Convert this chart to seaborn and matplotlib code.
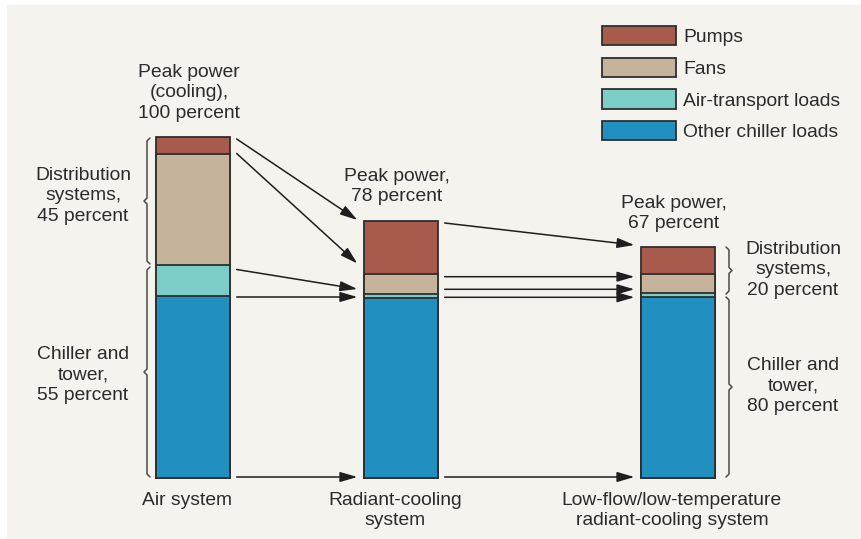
import pandas as pd
import seaborn as sns
import matplotlib.pyplot as plt
from matplotlib.patches import Rectangle

# data (percent of air-system peak power)
systems = ['Air system', 'Radiant-cooling\nsystem', 'Low-flow/low-temperature\nradiant-cooling system']
pumps = [5.0, 15.5, 7.8]
fans = [32.5, 5.9, 5.7]
air_transport = [9.0, 1.1, 0.9]
other_chiller = [53.5, 53.0, 53.3]
components = ['Pumps', 'Fans', 'Air-transport loads', 'Other chiller loads']
peak_labels = ['Peak power\n(cooling),\n100 percent', 'Peak power,\n78 percent', 'Peak power,\n67 percent']

colors = ['#a85b4d', '#c5b49b', '#7ccdc7', '#228fc1']
edge = '#2e2e2e'
txt = '#2b2b2b'

# layout: bar centres (uneven spacing like the original figure)
bar_pos = [0, 1, 2.332]

df = pd.DataFrame({'system': systems, 'pos': bar_pos, 'pumps': pumps, 'fans': fans,
                   'air': air_transport, 'chiller': other_chiller})
df['lvl_chiller'] = df['chiller']
df['lvl_air'] = df['lvl_chiller'] + df['air']
df['lvl_fans'] = df['lvl_air'] + df['fans']
df['lvl_pumps'] = df['lvl_fans'] + df['pumps']

sns.set_style('white')
plt.rcParams['font.family'] = ['Liberation Sans', 'DejaVu Sans']
FS = 13.9

fig = plt.figure(figsize=(8.61, 5.39), dpi=100)
fig.patch.set_facecolor('white')
fig.add_artist(Rectangle((7 / 861, 0), 1, 1 - 5 / 539, transform=fig.transFigure,
                         facecolor='#f4f3ee', edgecolor='none', zorder=-5))
ax = fig.add_axes([0, 0, 1, 1])
ax.set_facecolor('none')


# pixel -> data helpers for annotation placement
def X(px):
    return (px - 193) / 208


def Y(py):
    return (478.3 - py) / 3.41


half_w = 0.18
for col, c, lab in zip(['lvl_pumps', 'lvl_fans', 'lvl_air', 'lvl_chiller'], colors, components):
    sns.barplot(data=df, x='pos', y=col, native_scale=True, orient='v', width=2 * half_w,
                color=c, saturation=1, edgecolor=edge, linewidth=1.3, errorbar=None,
                label=lab, ax=ax)

ax.set_xlim(X(0), X(861))
ax.set_ylim(Y(539), Y(0))
ax.axis('off')

# category labels under the bars
for p, s in zip(bar_pos, systems):
    ax.text(p - 0.03, Y(492), s, ha='center', va='top', fontsize=FS, color=txt, linespacing=1.25)

# peak power labels above the bars
for p, top, s in zip(bar_pos, df['lvl_pumps'], peak_labels):
    ax.text(p - 0.02, top + 4.6, s, ha='center', va='bottom', fontsize=FS, color=txt, linespacing=1.25)

# arrows between bars
arrow_kw = dict(arrowstyle='-|>,head_length=0.55,head_width=0.16', color='#1e1e1e', lw=1.1,
                mutation_scale=19, shrinkA=0, shrinkB=0)
pairs_1 = [(139, 220), (153.5, 263.5), (269.5, 289), (297, 297), (477, 477)]
pairs_2 = [(223, 245), (276.7, 276.7), (289.3, 289.3), (297.3, 297.3), (477, 477)]
for (a, b) in pairs_1:
    ax.annotate('', xy=(bar_pos[1] - half_w - 0.03, Y(b)), xytext=(bar_pos[0] + half_w + 0.03, Y(a)),
                arrowprops=arrow_kw)
for (a, b) in pairs_2:
    ax.annotate('', xy=(bar_pos[2] - half_w - 0.03, Y(b)), xytext=(bar_pos[1] + half_w + 0.03, Y(a)),
                arrowprops=arrow_kw)


# curly braces
def brace(xpx, top, bot, side):
    # side = -1: tip points left, +1: tip points right
    h = 3
    xs = [xpx - side * h, xpx, xpx, xpx + side * h, xpx, xpx, xpx - side * h]
    mid = (Y(top) + Y(bot)) / 2
    d = 3 / 3.41
    ys = [Y(top), Y(top) - d, mid + d, mid, mid - d, Y(bot) + d, Y(bot)]
    ax.plot([X(v) for v in xs], ys, color='#4a4a4a', lw=1.1, solid_capstyle='round')


brace(147, 138, 264, -1)
brace(147, 267, 477, -1)
brace(729, 247, 294, 1)
brace(729, 297, 477, 1)

side_kw = dict(ha='center', va='center', fontsize=FS, color=txt, linespacing=1.25)
ax.text(X(83), Y(196), 'Distribution\nsystems,\n45 percent', **side_kw)
ax.text(X(83), Y(375), 'Chiller and\ntower,\n55 percent', **side_kw)
ax.text(X(793), Y(270), 'Distribution\nsystems,\n20 percent', **side_kw)
ax.text(X(793), Y(386), 'Chiller and\ntower,\n80 percent', **side_kw)

leg = ax.legend(loc='upper left', bbox_to_anchor=(602 / 861, 1 - 26 / 539), frameon=False,
                fontsize=FS, handlelength=3.85, handleheight=1.15, handletextpad=0.37,
                labelspacing=0.6, borderpad=0, borderaxespad=0)
for t in leg.get_texts():
    t.set_color(txt)

plt.savefig('out.png', dpi=100)
